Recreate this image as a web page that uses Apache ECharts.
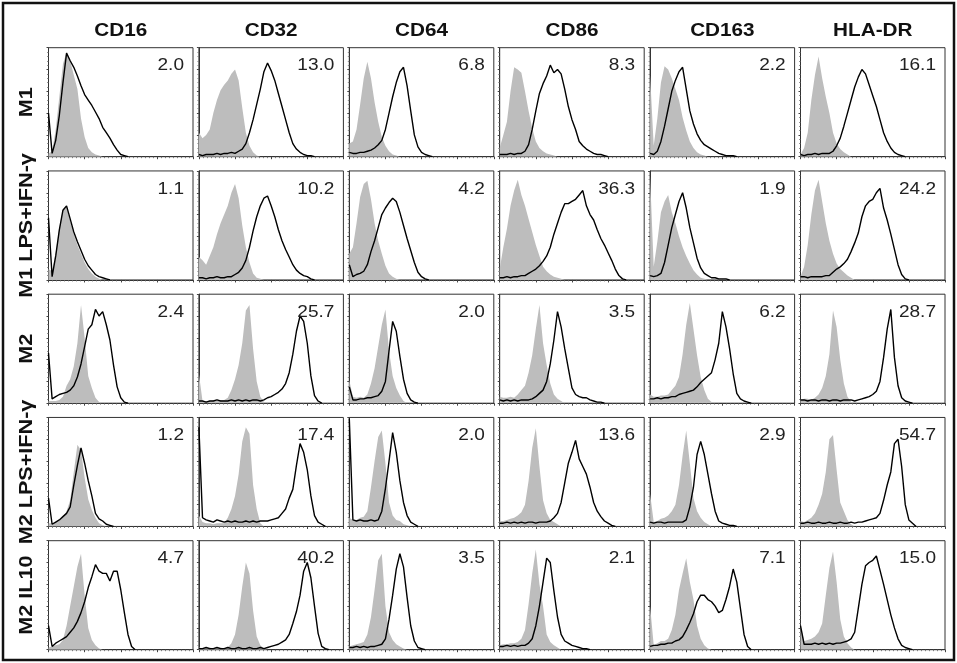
<!DOCTYPE html>
<html><head><meta charset="utf-8">
<script src="https://cdn.jsdelivr.net/npm/echarts@6/dist/echarts.min.js"></script>
<style>html,body{margin:0;padding:0;background:#fff}#c{width:957px;height:663px}</style>
</head><body><div id="c"></div><script>
// ---------- categories ----------
const markers = ['CD16','CD32','CD64','CD86','CD163','HLA-DR'];
const conditions = ['M1','M1 LPS+IFN-γ','M2','M2 LPS+IFN-γ','M2 IL10'];
// ---------- ratio labels (MFI ratio) ----------
const ratios_M1      = ['2.0','13.0','6.8','8.3','2.2','16.1'];
const ratios_M1LPS   = ['1.1','10.2','4.2','36.3','1.9','24.2'];
const ratios_M2      = ['2.4','25.7','2.0','3.5','6.2','28.7'];
const ratios_M2LPS   = ['1.2','17.4','2.0','13.6','2.9','54.7'];
const ratios_M2IL10  = ['4.7','40.2','3.5','2.1','7.1','15.0'];
// ---------- histogram channels (fluorescence bins, 0..100) ----------
const channels = [0,2.5,5,7.5,10,12.5,15,17.5,20,22.5,25,27.5,30,32.5,35,37.5,40,42.5,45,47.5,50,52.5,55,57.5,60,62.5,65,67.5,70,72.5,75,77.5,80,82.5,85,87.5,90,92.5,95,97.5,100];
// ---------- counts (% of max) : gray = isotype, black = stained ----------
// M1
const gray_M1_CD16  = [3,5,25,55,85,96,88,75,62,35,18,8,4,2,1,0];
const black_M1_CD16 = [40,3,15,38,68,95,88,82,74,65,57,52,47,41,35,27,22,17,11,6,2,1,0];
const gray_M1_CD32  = [22,17,20,25,40,52,61,66,70,76,80,70,45,22,10,4,1,0];
const black_M1_CD32 = [2,1,2,2,2,3,2,3,3,4,3,5,7,12,22,34,48,62,78,86,79,70,58,46,34,22,12,7,4,2,1,1,0];
const gray_M1_CD64  = [12,14,25,48,72,87,72,50,32,18,10,5,2,1,0];
const black_M1_CD64 = [4,3,3,4,4,5,6,8,11,15,25,40,55,68,78,82,65,42,20,9,4,2,1,0];
const gray_M1_CD86  = [8,20,32,60,82,80,77,60,42,26,14,8,5,3,2,1,0];
const black_M1_CD86 = [2,2,2,3,2,3,3,5,11,25,42,58,67,74,84,77,80,76,62,46,34,25,14,10,7,5,3,2,2,1,0];
const gray_M1_CD163  = [75,10,35,68,83,80,72,62,52,36,24,14,8,4,2,1,0];
const black_M1_CD163 = [3,2,5,14,28,44,60,70,78,82,62,42,30,21,15,11,9,7,5,3,2,1,1,1,0];
const gray_M1_HLADR  = [2,8,22,52,75,92,72,55,40,22,12,7,4,2,0];
const black_M1_HLADR = [2,1,2,2,3,2,3,3,3,5,10,17,28,40,52,64,73,80,76,66,56,46,34,22,14,8,4,2,1,0];
// M1 LPS+IFN-γ
const gray_M1LPS_CD16  = [10,8,25,48,65,68,54,42,32,24,16,10,6,3,1,0];
const black_M1LPS_CD16 = [57,3,22,46,64,68,56,44,35,27,19,13,9,5,3,2,1,0];
const gray_M1LPS_CD32  = [21,18,14,22,30,42,52,60,68,80,88,75,50,30,16,6,2,1,0];
const black_M1LPS_CD32 = [2,2,1,2,2,3,2,2,3,3,5,7,11,18,30,45,58,68,75,77,68,58,46,36,28,21,14,9,6,4,3,1,0];
const gray_M1LPS_CD64  = [24,30,52,76,88,91,74,52,36,24,13,6,3,1,0];
const black_M1LPS_CD64 = [14,3,5,6,8,14,26,36,48,60,66,71,75,72,62,50,38,27,16,7,3,1,0];
const gray_M1LPS_CD86  = [10,30,47,68,82,92,78,68,56,44,32,22,12,8,5,3,2,1,0];
const black_M1LPS_CD86 = [2,2,3,2,3,3,4,4,6,8,10,13,17,22,30,42,52,62,70,70,72,74,78,82,68,60,55,46,38,32,25,18,10,4,1,0];
const gray_M1LPS_CD163  = [95,12,35,62,72,78,62,52,40,30,22,15,9,5,2,1,0];
const black_M1LPS_CD163 = [4,3,4,6,16,32,48,60,72,80,66,48,34,20,11,6,4,2,2,1,1,1,0];
const gray_M1LPS_HLADR  = [3,12,32,60,82,92,72,52,36,24,15,10,7,4,2,0];
const black_M1LPS_HLADR = [3,3,2,3,3,3,3,4,4,7,10,12,15,19,26,34,43,58,68,72,74,80,84,66,55,42,28,14,5,1,0];
// M2
const gray_M2_CD16  = [2,2,2,3,6,16,22,34,55,90,60,25,14,5,1,0];
const black_M2_CD16 = [46,4,6,8,9,10,12,16,24,36,52,68,72,86,80,84,72,58,35,15,5,1,0];
const gray_M2_CD32  = [27,2,2,2,3,2,3,3,5,12,22,35,55,85,90,50,20,6,1,0];
const black_M2_CD32 = [2,2,1,2,2,3,2,2,2,3,2,3,2,3,2,3,3,2,3,5,6,8,10,13,18,28,45,66,80,75,55,25,7,2,0];
const gray_M2_CD64  = [21,6,5,6,5,8,18,32,52,72,86,48,25,14,7,2,0];
const black_M2_CD64 = [15,3,3,4,4,5,5,6,7,11,20,48,75,66,43,22,9,3,1,0];
const gray_M2_CD86  = [6,5,5,6,5,8,12,16,28,44,68,90,55,35,18,8,4,2,0];
const black_M2_CD86 = [3,2,3,2,3,2,3,3,3,4,6,9,12,20,36,58,84,70,50,32,14,8,6,5,5,3,2,1,1,0];
const gray_M2_CD163  = [8,6,6,7,7,8,12,16,24,45,72,92,68,44,24,12,4,1,0];
const black_M2_CD163 = [4,4,5,4,5,5,6,6,8,9,10,11,12,15,19,22,25,28,40,55,84,70,50,27,9,4,2,1,0];
const gray_M2_HLADR  = [3,4,4,3,5,8,14,25,45,85,70,40,18,6,1,0];
const black_M2_HLADR = [3,3,2,3,3,2,3,3,2,3,3,2,3,3,3,2,3,4,5,6,8,11,20,42,68,86,42,16,5,2,1,0];
// M2 LPS+IFN-γ
const gray_M2LPS_CD16  = [3,3,4,5,9,14,24,50,75,70,45,25,15,8,3,1,0];
const black_M2LPS_CD16 = [26,2,4,6,9,12,18,38,56,72,58,42,28,12,7,5,2,1,0];
const gray_M2LPS_CD32  = [10,4,3,3,2,3,3,3,8,16,28,48,78,91,85,38,16,3,0];
const black_M2LPS_CD32 = [91,8,6,5,4,6,5,4,5,4,5,4,4,5,4,5,4,5,5,5,6,7,8,12,16,26,34,56,76,68,52,28,10,4,2,0];
const gray_M2LPS_CD64  = [8,6,6,8,9,14,36,60,82,88,58,22,10,6,5,2,1,0];
const black_M2LPS_CD64 = [99,6,5,6,5,5,6,5,6,14,35,60,86,68,42,22,10,4,2,0];
const gray_M2LPS_CD86  = [5,5,6,7,8,10,13,20,42,72,90,55,24,12,6,4,2,0];
const black_M2LPS_CD86 = [3,3,4,3,4,3,4,3,4,4,3,4,4,4,5,8,12,22,40,58,68,79,62,55,48,36,22,14,9,5,3,1,0];
const gray_M2LPS_CD163  = [30,4,5,7,8,10,14,20,38,65,88,58,26,14,8,4,2,0];
const black_M2LPS_CD163 = [4,3,4,4,3,4,4,4,4,4,6,18,36,66,78,66,48,30,14,5,3,2,1,1,0];
const gray_M2LPS_HLADR  = [5,4,6,8,12,20,30,50,80,84,52,22,14,6,2,0];
const black_M2LPS_HLADR = [3,3,4,3,3,4,3,3,4,3,3,4,3,3,4,3,4,4,5,6,7,8,12,24,38,50,76,80,55,20,6,3,0];
// M2 IL10
const gray_M2IL10_CD16  = [2,3,4,5,9,22,40,58,76,88,50,20,9,4,1,0];
const black_M2IL10_CD16 = [22,3,6,8,10,12,16,20,26,34,44,57,67,78,72,70,70,63,72,72,55,34,14,3,0];
const gray_M2IL10_CD32  = [2,1,2,2,1,2,2,1,2,6,14,32,58,80,70,36,12,4,1,0];
const black_M2IL10_CD32 = [1,1,2,1,1,2,1,1,2,1,1,2,1,1,2,1,1,2,1,2,3,4,5,7,9,14,24,35,50,72,80,66,40,15,3,1,0];
const gray_M2IL10_CD64  = [3,4,5,6,7,14,30,55,82,88,40,16,9,5,3,1,0];
const black_M2IL10_CD64 = [2,2,3,2,3,2,3,3,4,5,10,28,50,74,88,76,48,22,8,2,1,0];
const gray_M2IL10_CD86  = [4,5,5,6,6,7,10,18,42,70,92,60,40,14,7,4,2,0];
const black_M2IL10_CD86 = [3,3,4,3,4,3,4,4,6,10,22,40,62,84,80,54,30,14,8,6,4,3,2,1,1,0];
const gray_M2IL10_CD163  = [40,4,6,8,8,10,18,32,55,70,84,62,46,22,10,4,1,0];
const black_M2IL10_CD163 = [3,4,4,5,5,6,6,8,9,12,18,25,33,44,50,50,46,44,40,34,36,46,58,74,62,38,14,3,0];
const gray_M2IL10_HLADR  = [22,8,9,10,12,16,24,50,75,90,62,28,12,6,2,0];
const black_M2IL10_HLADR = [22,5,5,5,6,5,6,5,6,5,6,6,7,8,10,16,38,60,77,80,82,86,73,60,46,32,20,10,4,2,1,0];

// ---------- assemble ----------
const ratios = [ratios_M1, ratios_M1LPS, ratios_M2, ratios_M2LPS, ratios_M2IL10];
const grays = [
  [gray_M1_CD16,gray_M1_CD32,gray_M1_CD64,gray_M1_CD86,gray_M1_CD163,gray_M1_HLADR],
  [gray_M1LPS_CD16,gray_M1LPS_CD32,gray_M1LPS_CD64,gray_M1LPS_CD86,gray_M1LPS_CD163,gray_M1LPS_HLADR],
  [gray_M2_CD16,gray_M2_CD32,gray_M2_CD64,gray_M2_CD86,gray_M2_CD163,gray_M2_HLADR],
  [gray_M2LPS_CD16,gray_M2LPS_CD32,gray_M2LPS_CD64,gray_M2LPS_CD86,gray_M2LPS_CD163,gray_M2LPS_HLADR],
  [gray_M2IL10_CD16,gray_M2IL10_CD32,gray_M2IL10_CD64,gray_M2IL10_CD86,gray_M2IL10_CD163,gray_M2IL10_HLADR]
];
const blacks = [
  [black_M1_CD16,black_M1_CD32,black_M1_CD64,black_M1_CD86,black_M1_CD163,black_M1_HLADR],
  [black_M1LPS_CD16,black_M1LPS_CD32,black_M1LPS_CD64,black_M1LPS_CD86,black_M1LPS_CD163,black_M1LPS_HLADR],
  [black_M2_CD16,black_M2_CD32,black_M2_CD64,black_M2_CD86,black_M2_CD163,black_M2_HLADR],
  [black_M2LPS_CD16,black_M2LPS_CD32,black_M2LPS_CD64,black_M2LPS_CD86,black_M2LPS_CD163,black_M2LPS_HLADR],
  [black_M2IL10_CD16,black_M2IL10_CD32,black_M2IL10_CD64,black_M2IL10_CD86,black_M2IL10_CD163,black_M2IL10_HLADR]
];
const pair = arr => arr.map((v,i)=>[channels[i], v]);

const FONT = '"Liberation Sans", Arial, Helvetica, sans-serif';
const L0 = 48.5, DX = 150.4, W = 144.5;
const T0 = 47.7, DY = 123.25, H = 109;

const grid=[], xAxis=[], yAxis=[], series=[], graphic=[];
for (let r=0;r<5;r++){
  for (let c=0;c<6;c++){
    const k = r*6+c;
    const left = L0 + DX*c, top = T0 + DY*r;
    grid.push({left:left, top:top, width:W, height:H, show:true, borderColor:'#333', borderWidth:1, backgroundColor:'#fff'});
    xAxis.push({gridIndex:k, type:'value', min:0, max:100, interval:25,
      axisLine:{show:true, onZero:false, lineStyle:{color:'#333', width:1}},
      axisTick:{show:true, length:2.5, lineStyle:{color:'#444', width:1}},
      minorTick:{show:true, splitNumber:9, length:1.5, lineStyle:{color:'#666', width:0.8}},
      axisLabel:{show:false}, splitLine:{show:false}});
    yAxis.push({gridIndex:k, type:'value', min:0, max:100, interval:20,
      axisLine:{show:true, onZero:false, lineStyle:{color:'#333', width:1}},
      axisTick:{show:true, length:2, lineStyle:{color:'#444', width:1}},
      minorTick:{show:true, splitNumber:5, length:1.5, lineStyle:{color:'#777', width:0.8}},
      axisLabel:{show:false}, splitLine:{show:false}});
    series.push({type:'line', name:'isotype', xAxisIndex:k, yAxisIndex:k, data:pair(grays[r][c]),
      symbol:'none', silent:true, z:2, lineStyle:{width:0, color:'#bdbdbd'},
      areaStyle:{color:'#bdbdbd', opacity:1}});
    series.push({type:'line', name:markers[c], xAxisIndex:k, yAxisIndex:k, data:pair(blacks[r][c]),
      symbol:'none', silent:true, z:3, lineStyle:{width:1.4, color:'#000'}});
    graphic.push({type:'text', x:left+W-9, y:top+18, scaleX:1.12, z:10,
      style:{text:ratios[r][c], x:0, y:0, font:'17px '+FONT, fill:'#222', textAlign:'right', textVerticalAlign:'middle'}});
  }
}
markers.forEach((m,c)=>{
  graphic.push({type:'text', x:L0+DX*c+W/2, y:31.5, scaleX:1.15, z:10,
    style:{text:m, x:0, y:0, font:'bold 18px '+FONT, fill:'#111', textAlign:'center', textVerticalAlign:'middle'}});
});
conditions.forEach((m,r)=>{
  graphic.push({type:'text', x:27, y:T0+DY*r+H/2, rotation:Math.PI/2, scaleX:1.2, z:10,
    style:{text:m, x:0, y:0, font:'bold 18px '+FONT, fill:'#111', textAlign:'center', textVerticalAlign:'middle'}});
});
graphic.push({type:'rect', shape:{x:3, y:3, width:951, height:657}, z:0,
  style:{fill:null, stroke:'#111', lineWidth:2.5}});

const chart = echarts.init(document.getElementById('c'), null, {renderer:'canvas'});
chart.setOption({animation:false, backgroundColor:'#fff', grid, xAxis, yAxis, series, graphic});
</script></body></html>
